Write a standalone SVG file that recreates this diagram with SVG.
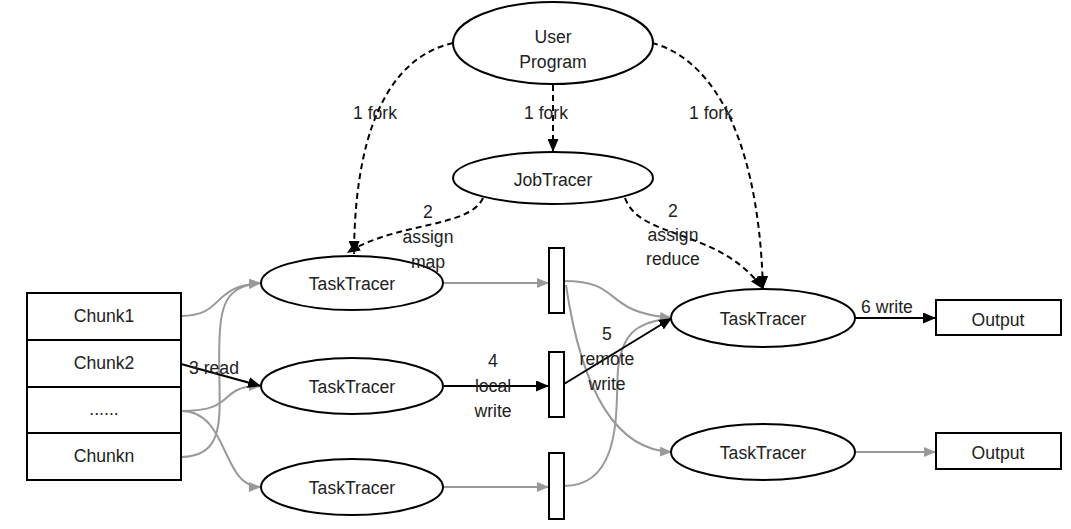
<svg xmlns="http://www.w3.org/2000/svg" width="1071" height="529" viewBox="0 0 1071 529">
<style>
text{font-family:"Liberation Sans",Arial,sans-serif;font-size:17.6px;fill:#222;text-anchor:middle;dominant-baseline:central}
.node{fill:#fff;stroke:#000;stroke-width:2}
.blk{fill:none;stroke:#000;stroke-width:2}
.dash{fill:none;stroke:#000;stroke-width:2;stroke-dasharray:6,4}
.gry{fill:none;stroke:#999;stroke-width:2}
</style>
<defs>
<marker id="ab" markerUnits="userSpaceOnUse" markerWidth="13" markerHeight="11" refX="13" refY="5.5" orient="auto"><path d="M0,0 L13,5.5 L0,11 z" fill="#000"/></marker>
<marker id="ag" markerUnits="userSpaceOnUse" markerWidth="12" markerHeight="10" refX="12" refY="5" orient="auto"><path d="M0,0 L12,5 L0,10 z" fill="#999"/></marker>
</defs>
<rect width="1071" height="529" fill="#fff"/>
<g id="connectors">
<path class="dash" d="M453,43 C400,55 355,110 354,254" marker-end="url(#ab)"/>
<path class="dash" d="M652,43 C700,55 758,115 763,289" marker-end="url(#ab)"/>
<path class="dash" d="M553,85 L553,152" marker-end="url(#ab)"/>
<path class="dash" d="M483,198 C470,228 395,222 347,253" marker-end="url(#ab)"/>
<path class="dash" d="M625,198 C640,240 720,228 763,289" marker-end="url(#ab)"/>
<path class="gry" d="M181,316 C225,316 210,286 261,283" marker-end="url(#ag)"/>
<path class="gry" d="M181,457 C235,457 215,400 220,330 C222,295 235,285 261,283" marker-end="url(#ag)"/>
<path class="gry" d="M181,411 C240,411 215,386 261,386" marker-end="url(#ag)"/>
<path class="gry" d="M181,411 C230,411 220,487 261,487" marker-end="url(#ag)"/>
<path class="blk" d="M181,364 L261,386" marker-end="url(#ab)"/>
<path class="gry" d="M444,283 L549,283" marker-end="url(#ag)"/>
<path class="blk" d="M444,386 L549,386" marker-end="url(#ab)"/>
<path class="gry" d="M444,487 L549,487" marker-end="url(#ag)"/>
<path class="gry" d="M564,281 C625,281 600,312 672,318" marker-end="url(#ag)"/>
<path class="gry" d="M566,285 C580,380 610,450 672,452" marker-end="url(#ag)"/>
<path class="gry" d="M564,486 C625,486 615,400 618,370 C622,330 640,322 672,318" marker-end="url(#ag)"/>
<path class="blk" d="M564,384 L672,318" marker-end="url(#ab)"/>
<path class="blk" d="M855,318 L936,318" marker-end="url(#ab)"/>
<path class="gry" d="M856,452 L936,452" marker-end="url(#ag)"/>
</g>
<g id="user-program"><ellipse class="node" cx="553" cy="43" rx="100" ry="41"/><text x="553" y="37">User</text><text x="553" y="62">Program</text></g>
<g id="jobtracer"><ellipse class="node" cx="553" cy="178" rx="100" ry="26"/><text x="553" y="180">JobTracer</text></g>
<g id="tasktracer-m1"><ellipse class="node" cx="352" cy="283" rx="91" ry="27"/><text x="352" y="284">TaskTracer</text></g>
<g id="tasktracer-m2"><ellipse class="node" cx="352" cy="386" rx="91" ry="28"/><text x="352" y="387">TaskTracer</text></g>
<g id="tasktracer-m3"><ellipse class="node" cx="352" cy="487" rx="91" ry="28"/><text x="352" y="488">TaskTracer</text></g>
<g id="chunks">
<rect class="node" x="27" y="293" width="154" height="47"/><text x="104" y="316">Chunk1</text>
<rect class="node" x="27" y="340" width="154" height="47"/><text x="104" y="363">Chunk2</text>
<rect class="node" x="27" y="387" width="154" height="46"/><text x="104" y="409">......</text>
<rect class="node" x="27" y="433" width="154" height="47"/><text x="104" y="456">Chunkn</text>
</g>
<g id="buffer1"><rect class="node" x="549" y="248" width="15" height="65"/></g>
<g id="buffer2"><rect class="node" x="549" y="352" width="15" height="65"/></g>
<g id="buffer3"><rect class="node" x="549" y="453" width="15" height="66"/></g>
<g id="tasktracer-r1"><ellipse class="node" cx="763" cy="318" rx="92" ry="29"/><text x="763" y="319">TaskTracer</text></g>
<g id="tasktracer-r2"><ellipse class="node" cx="763" cy="452" rx="92" ry="28"/><text x="763" y="453">TaskTracer</text></g>
<g id="output1"><rect class="node" x="936" y="300" width="125" height="35"/><text x="998" y="320">Output</text></g>
<g id="output2"><rect class="node" x="936" y="433" width="125" height="36"/><text x="998" y="453">Output</text></g>
<g id="labels">
<text x="375" y="113">1 fork</text>
<text x="546" y="113">1 fork</text>
<text x="711" y="113">1 fork</text>
<text x="428" y="212">2</text><text x="428" y="237">assign</text><text x="428" y="262">map</text>
<text x="673" y="211">2</text><text x="673" y="235">assign</text><text x="673" y="259">reduce</text>
<text x="214" y="368">3 read</text>
<text x="493" y="361">4</text><text x="493" y="386">local</text><text x="493" y="411">write</text>
<text x="607" y="334">5</text><text x="607" y="359">remote</text><text x="607" y="384">write</text>
<text x="887" y="307">6 write</text>
</g>
</svg>
